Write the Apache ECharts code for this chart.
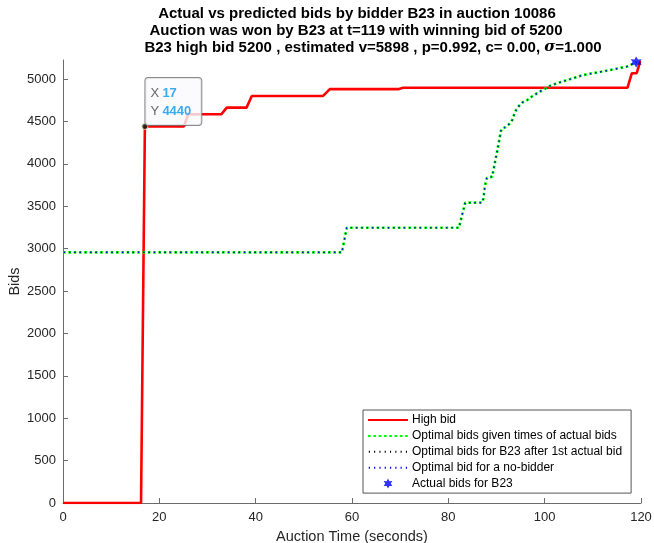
<!DOCTYPE html>
<html>
<head>
<meta charset="utf-8">
<title>Actual vs predicted bids by bidder B23 in auction 10086</title>
<script src="https://cdn.jsdelivr.net/npm/echarts@6/dist/echarts.min.js"></script>
<style>
  html, body { margin: 0; padding: 0; background: #ffffff; }
  #chart { width: 654px; height: 543px; }
</style>
</head>
<body>
<div id="chart"></div>
<script>
// High bid over the auction (seconds, bid)
var highBidTime  = [0, 16.2, 17, 25.1, 26.0, 32.9, 34.0, 38.1, 39.2, 54.0, 55.4, 69.6, 70.6, 117.2, 118.1, 119.1, 119.8, 120];
var highBidValue = [0, 0, 4440, 4440, 4585, 4585, 4662, 4662, 4800, 4800, 4880, 4880, 4897, 4897, 5068, 5068, 5200, 5200];

// Optimal bid path (shared by the three model curves)
var optimalTime  = [0, 57.9, 58.9, 82.2, 83.5, 87.0, 87.3, 87.55, 87.75, 88.0, 89.1, 89.33, 89.95, 90.58, 90.99,
                    91.76, 92.6, 93.27, 93.63, 94.04, 94.66, 95.43, 96.39, 97.3, 98.2, 99.2, 100.1, 101.1, 102.1,
                    103.2, 108.0, 112.9, 117.0, 119.1];
var optimalValue = [2955, 2955, 3246, 3246, 3541, 3541, 3593, 3718, 3777, 3836, 3848, 3915, 4092, 4281, 4407,
                    4430, 4466, 4517, 4575, 4631, 4682, 4725, 4752, 4791, 4823, 4858, 4886, 4917, 4941,
                    4961, 5047, 5098, 5145, 5197];

// Actual bids placed by B23
var actualBidTime  = [119];
var actualBidValue = [5200];

// Data tip shown on the high-bid curve
var tipTime  = 17;
var tipValue = 4440;

// Axis ticks
var xTicks = [0, 20, 40, 60, 80, 100, 120];
var yTicks = [0, 500, 1000, 1500, 2000, 2500, 3000, 3500, 4000, 4500, 5000];

var seriesNames = [
  'High bid',
  'Optimal bids given times of actual bids',
  'Optimal bids for B23 after 1st actual bid',
  'Optimal bid for a no-bidder',
  'Actual bids for B23'
];

function zip(xs, ys) {
  return xs.map(function (x, i) { return [x, ys[i]]; });
}

var FONT = '"Liberation Sans", Arial, Helvetica, sans-serif';
var STAR = 'path://M10 0 L12.8 5.2 L18.66 5 L15.6 10 L18.66 15 L12.8 14.8 L10 20 L7.2 14.8 L1.34 15 L4.4 10 L1.34 5 L7.2 5.2 Z';

// Legend entries: line series show only their stroke, no marker
var noMarker = { color: 'transparent', borderWidth: 0, borderColor: 'transparent' };
var legendData = seriesNames.map(function (n, i) {
  return i < 4 ? { name: n, itemStyle: noMarker } : { name: n };
});

var chart = echarts.init(document.getElementById('chart'), null, { renderer: 'canvas' });

var titleStyle = { fontFamily: FONT, fontSize: 15, fontWeight: 'bold', color: '#000000' };

chart.setOption({
  animation: false,
  backgroundColor: '#ffffff',
  title: [
    { text: 'Actual vs predicted bids by bidder B23 in auction 10086', left: 357, top: 6, textAlign: 'center', textStyle: titleStyle, padding: 0 },
    { text: 'Auction was won by B23 at t=119 with winning bid of 5200', left: 356, top: 23, textAlign: 'center', textStyle: titleStyle, padding: 0 },
    {
      text: '{b|B23 high bid 5200 , estimated v=5898 , p=0.992, c= 0.00, }{s|σ}{b|=1.000}',
      left: 373, top: 40, textAlign: 'center', padding: 0,
      textStyle: {
        fontFamily: FONT, fontSize: 15, fontWeight: 'bold', color: '#000000',
        rich: {
          b: { fontFamily: FONT, fontSize: 15, fontWeight: 'bold', color: '#000000' },
          s: { fontFamily: '"DejaVu Serif", "Liberation Serif", serif', fontSize: 15, fontStyle: 'italic', color: '#000000' }
        }
      }
    }
  ],
  grid: { left: 63, right: 13, top: 60, bottom: 40, containLabel: false, outerBoundsMode: 'none' },
  legend: {
    data: legendData,
    orient: 'vertical',
    left: 363,
    top: 410,
    padding: [3.5, 9, 3, 4],
    itemWidth: 40,
    itemHeight: 10,
    itemGap: 2.9,
    backgroundColor: '#ffffff',
    borderColor: '#555555',
    borderWidth: 1,
    borderRadius: 0,
    selectedMode: false,
    textStyle: { fontFamily: FONT, fontSize: 12, lineHeight: 13, color: '#000000', padding: [0, 0, 0, -1] }
  },
  xAxis: {
    type: 'value',
    min: 0,
    max: 120,
    interval: 20,
    name: 'Auction Time (seconds)',
    nameLocation: 'middle',
    nameGap: 26,
    nameMoveOverlap: false,
    nameTextStyle: { fontFamily: FONT, fontSize: 14.5, color: '#262626' },
    axisLine: { show: true, onZero: false, lineStyle: { color: '#6b6b6b', width: 1 } },
    axisTick: { show: true, inside: true, length: 5, customValues: xTicks, lineStyle: { color: '#6b6b6b' } },
    axisLabel: {
      customValues: xTicks, fontFamily: FONT, fontSize: 13, color: '#262626', margin: 8,
      formatter: function (v) { return String(v); }
    },
    splitLine: { show: false }
  },
  yAxis: {
    type: 'value',
    min: 0,
    max: 5224,
    name: 'Bids',
    nameLocation: 'middle',
    nameGap: 41,
    nameRotate: 90,
    nameMoveOverlap: false,
    nameTextStyle: { fontFamily: FONT, fontSize: 14.5, color: '#262626' },
    axisLine: { show: true, onZero: false, lineStyle: { color: '#6b6b6b', width: 1 } },
    axisTick: { show: true, inside: true, length: 5, customValues: yTicks, lineStyle: { color: '#6b6b6b' } },
    axisLabel: {
      customValues: yTicks, fontFamily: FONT, fontSize: 13, color: '#262626', margin: 7,
      formatter: function (v) { return String(v); }
    },
    splitLine: { show: false }
  },
  series: [
    {
      name: seriesNames[0],
      type: 'line',
      data: zip(highBidTime, highBidValue),
      symbol: 'none',
      lineStyle: { color: '#ff0000', width: 2.6, type: 'solid' },
      itemStyle: { color: '#ff0000' },
      z: 2
    },
    {
      name: seriesNames[1],
      type: 'line',
      data: zip(optimalTime, optimalValue),
      symbol: 'none',
      lineStyle: { color: '#00ff00', width: 2.7, type: [2.7, 2.6] },
      itemStyle: { color: '#00ff00' },
      z: 3
    },
    {
      name: seriesNames[2],
      type: 'line',
      data: zip(optimalTime, optimalValue),
      symbol: 'none',
      lineStyle: { color: '#000000', width: 1.1, type: [1.1, 4.2], dashOffset: -0.8 },
      itemStyle: { color: '#000000' },
      z: 4
    },
    {
      name: seriesNames[3],
      type: 'line',
      data: zip(optimalTime, optimalValue),
      symbol: 'none',
      lineStyle: { color: '#0000ff', width: 1.2, type: [1.2, 4.1], dashOffset: -0.75 },
      itemStyle: { color: '#0000ff' },
      z: 5
    },
    {
      name: seriesNames[4],
      type: 'scatter',
      data: zip(actualBidTime, actualBidValue),
      symbol: STAR,
      symbolSize: 11,
      itemStyle: { color: '#0000ff' },
      z: 6
    },
    {
      name: 'datatip',
      type: 'scatter',
      data: [[tipTime, tipValue]],
      symbol: 'circle',
      symbolSize: 6,
      itemStyle: { color: '#111111', borderColor: '#f5f0b0', borderWidth: 1 },
      z: 10,
      silent: true,
      label: {
        show: true,
        position: [4, 2],
        align: 'left',
        verticalAlign: 'bottom',
        backgroundColor: '#fafafd',
        borderColor: '#6e6e6e',
        borderWidth: 1,
        borderRadius: 3,
        padding: [6, 10, 5, 5],
        lineHeight: 18,
        formatter: function (p) {
          return '{k|X} {v|' + p.value[0] + '}\n{k|Y} {v|' + p.value[1] + '}';
        },
        rich: {
          k: { fontFamily: FONT, fontSize: 13, color: '#404040', lineHeight: 18 },
          v: { fontFamily: FONT, fontSize: 13, fontWeight: 'bold', color: '#0a96f0', lineHeight: 18 }
        }
      }
    }
  ]
});
</script>
</body>
</html>
